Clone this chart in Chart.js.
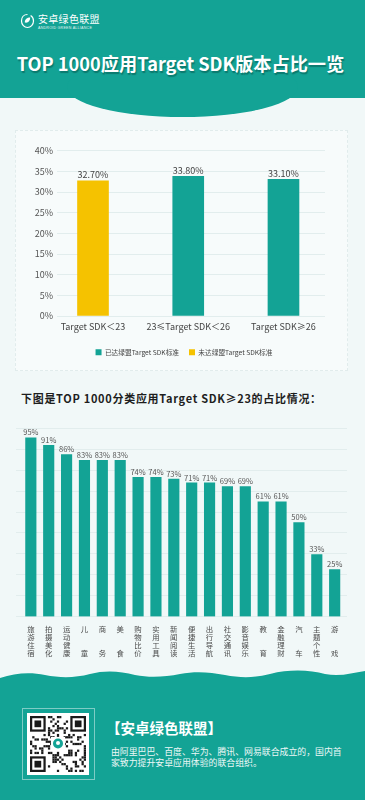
<!DOCTYPE html>
<html lang="zh-CN">
<head>
<meta charset="utf-8">
<title>TOP 1000应用Target SDK版本占比一览</title>
<script src="https://cdn.jsdelivr.net/npm/chart.js@4.4.1/dist/chart.umd.min.js"></script>
<style>
  html, body { margin: 0; padding: 0; }
  body {
    width: 365px; height: 800px; position: relative; overflow: hidden;
    background: #f1f8f8;
    font-family: 'Noto Sans CJK SC', 'Noto Sans', sans-serif;
  }
  .abs { position: absolute; }
  #topBand { left: 0; top: 0; width: 365px; height: 98px; background: #13a395; }
  #bump { left: 67px; top: 57px; width: 231px; height: 60px; border-radius: 50%; background: #13a395; }
  #brand { left: 38px; top: 12px; color: #fff; font-size: 10px; line-height: 13px; letter-spacing: 0.3px; }
  #brandSub { left: 38px; top: 25.5px; color: #e6f5f3; font-size: 3.6px; line-height: 4px; letter-spacing: 0.25px; font-family: 'Liberation Sans', sans-serif; }
  #title {
    left: -2px; top: 51px; width: 365px; text-align: center;
    font-size: 18.2px; line-height: 24px; font-weight: 700; color: #fff;
    text-shadow: 1px 2px 1px rgba(0, 70, 62, 0.45);
  }
  #card1 { left: 15px; top: 130px; width: 331px; height: 239px; background: #f7fbfb; border: 1px dashed #e1ecec; }
  #sdkBox { left: 20px; top: 140px; }
  #subhead { left: 21px; top: 390px; font-size: 11px; line-height: 16px; font-weight: 700; color: #1e1e1e; letter-spacing: 0.7px; white-space: nowrap; }
  #catBox { left: 0; top: 415px; }
  #wave { left: 0; top: 665px; }
  #qrFrame { left: 22px; top: 708px; width: 71px; height: 70px; border: 1px solid rgba(255,255,255,0.45); }
  #qr { left: 27px; top: 713px; background: #fff; }
  #orgName { left: 106px; top: 719px; font-size: 14.5px; line-height: 18px; font-weight: 700; color: #fff; white-space: nowrap; }
  #orgDesc { left: 111px; top: 745.5px; font-size: 8.9px; line-height: 11px; color: #eef8f7; white-space: nowrap; }
</style>
</head>
<body>
<div id="topBand" class="abs"></div>
<div id="bump" class="abs"></div>

<svg class="abs" style="left:20px;top:13px" width="15" height="16" viewBox="0 0 15 16">
  <path d="M7.5 1.5 C3.6 1.5 1.5 4.6 1.5 8 C1.5 11.6 4.3 14.5 7.5 14.5 C10.7 14.5 13.5 11.6 13.5 8 C13.5 5.5 12.4 3.6 10.6 2.5" fill="none" stroke="#fff" stroke-width="1.2"/>
  <path d="M4.8 9.6 C4.8 6.4 7 4.6 10.2 4.6 C10.2 7.8 8.3 10.3 4.8 9.6 Z" fill="#fff"/>
</svg>
<div id="brand" class="abs">安卓绿色联盟</div>
<div id="brandSub" class="abs">ANDROID GREEN ALLIANCE</div>

<div id="title" class="abs">TOP 1000应用Target SDK版本占比一览</div>

<div id="card1" class="abs"></div>
<div id="sdkBox" class="abs"><canvas id="sdkChart" width="328" height="228"></canvas></div>

<div id="subhead" class="abs">下图是TOP 1000分类应用Target SDK≥23的占比情况：</div>
<div id="catBox" class="abs"><canvas id="categoryChart" width="365" height="250"></canvas></div>

<svg id="wave" class="abs" width="365" height="135" viewBox="0 0 365 135">
  <path d="M0 13 C15 8 30 7 45 10 C60 13 75 13 90 9 C105 5 120 6 135 10 C150 13 165 12 180 9 C195 6 210 7 225 10 C240 13 255 13 270 9 C290 4 310 5 325 9 C340 12 352 8 365 6 L365 135 L0 135 Z" fill="#13a395"/>
</svg>
<div id="qrFrame" class="abs"></div>
<canvas id="qr" class="abs" width="62" height="62"></canvas>
<div id="orgName" class="abs">【安卓绿色联盟】</div>
<div id="orgDesc" class="abs">由阿里巴巴、百度、华为、腾讯、网易联合成立的，国内首<br>家致力提升安卓应用体验的联合组织。</div>

<script>
// chart 1: share of TOP 1000 apps per target SDK range
const sdkRanges = ['Target SDK＜23', '23≤Target SDK＜26', 'Target SDK≥26'];
const reachedShare = [null, 33.8, 33.1];
const notReachedShare = [32.7, null, null];
const shareTicks = [0, 5, 10, 15, 20, 25, 30, 35, 40];
const legendNames = ['已达绿盟Target SDK标准', '未达绿盟Target SDK标准'];

// chart 2: share of apps with target SDK >= 23 per category
const appCategories = ['旅游住宿', '拍摄美化', '运动健康', '儿童', '商务', '美食', '购物比价', '实用工具', '新闻阅读',
  '便捷生活', '出行导航', '社交通讯', '影音娱乐', '教育', '金融理财', '汽车', '主题个性', '游戏'];
const categoryShare = [95, 91, 86, 83, 83, 83, 74, 74, 73, 71, 71, 69, 69, 61, 61, 50, 33, 25];

const TEAL = '#13a395';
const YELLOW = '#f5c200';
const GRID = '#e2eded';

Chart.defaults.font.family = "'Noto Sans CJK SC', 'Noto Sans', sans-serif";

const toPoints = arr => arr.map((v, i) => ({ x: i, y: v }));

// vertical category names: one character per line, two-character names spread out
const stackChars = name => name.length === 2 ? [name[0], '', '', name[1]] : name.split('');

// draws the value above every bar, using the bar positions from the chart
function valueLabels(format, font, color, offset) {
  return {
    id: 'valueLabels',
    afterDatasetsDraw(chart) {
      const ctx = chart.ctx;
      ctx.save();
      ctx.font = font;
      ctx.fillStyle = color;
      ctx.textAlign = 'center';
      ctx.textBaseline = 'bottom';
      chart.data.datasets.forEach((ds, di) => {
        chart.getDatasetMeta(di).data.forEach((bar, i) => {
          const v = ds.data[i].y;
          if (v === null || v === undefined) return;
          ctx.fillText(format(v), bar.x, bar.y - offset);
        });
      });
      ctx.restore();
    }
  };
}

new Chart(document.getElementById('sdkChart'), {
  type: 'bar',
  data: {
    datasets: [
      { label: legendNames[0], data: toPoints(reachedShare), backgroundColor: TEAL, grouped: false, barThickness: 31 },
      { label: legendNames[1], data: toPoints(notReachedShare), backgroundColor: YELLOW, grouped: false, barThickness: 31 }
    ]
  },
  options: {
    responsive: false,
    animation: false,
    layout: { padding: { top: 10.7, right: 0, bottom: 2.5, left: 0 } },
    scales: {
      x: {
        type: 'linear', bounds: 'data', offset: false, min: -0.378, max: 2.436,
        grid: { display: false, drawTicks: false, offset: false }, border: { display: false },
        afterBuildTicks: s => { s.ticks = sdkRanges.map((_, i) => ({ value: i })); },
        afterFit: s => { s.height = 22.8; },
        ticks: { autoSkip: false, maxRotation: 0, padding: 5, color: '#444', font: { size: 9 },
          callback: v => sdkRanges[v] }
      },
      y: {
        min: 0, max: 40,
        grid: { color: GRID, drawTicks: false }, border: { display: false },
        afterBuildTicks: s => { s.ticks = shareTicks.map(v => ({ value: v })); },
        afterFit: s => { s.width = 37; },
        ticks: { padding: 4, color: '#555', font: { size: 9 }, callback: v => v + '%' }
      },
      // empty axis on the right: keeps the plot narrower than the legend row, like the poster
      spacer: {
        type: 'linear', position: 'right', display: true,
        grid: { display: false }, border: { display: false }, ticks: { display: false },
        afterFit: s => { s.width = 23; }
      }
    },
    plugins: {
      legend: { position: 'bottom', labels: { boxWidth: 6, boxHeight: 6, padding: 10, color: '#444', font: { size: 6.7 } } },
      tooltip: { enabled: false }
    }
  },
  plugins: [valueLabels(v => v.toFixed(2) + '%', "9px 'Liberation Sans Narrow', 'Noto Sans CJK SC'", '#444', 1.5)]
});

new Chart(document.getElementById('categoryChart'), {
  type: 'bar',
  data: {
    datasets: [{ label: 'Target SDK≥23', data: toPoints(categoryShare), backgroundColor: TEAL, barThickness: 10.5 }]
  },
  options: {
    responsive: false,
    animation: false,
    layout: { padding: { top: 13.3, right: 18, bottom: 6.3, left: 16 } },
    scales: {
      x: {
        type: 'linear', bounds: 'data', offset: false, min: -0.83, max: 17.69,
        grid: { display: false, drawTicks: false, offset: false }, border: { display: false },
        afterBuildTicks: s => { s.ticks = appCategories.map((_, i) => ({ value: i })); },
        afterFit: s => { s.height = 42; },
        ticks: { autoSkip: false, maxRotation: 0, padding: 8, color: '#4a4a4a', font: { size: 7.4, lineHeight: '8px' },
          callback: v => stackChars(appCategories[v]) }
      },
      y: {
        min: 0, max: 100,
        grid: { color: GRID, drawTicks: false }, border: { display: false },
        afterFit: s => { s.width = 0; },
        ticks: { display: false, count: 10 }
      }
    },
    plugins: { legend: { display: false }, tooltip: { enabled: false } }
  },
  plugins: [valueLabels(v => v + '%', "7.5px 'Liberation Sans Narrow', 'Noto Sans CJK SC'", '#555', 1.5)]
});

// decorative QR-style block for the footer
function drawQr() {
  const c = document.getElementById('qr');
  const g = c.getContext('2d');
  const n = 25, pad = 3, s = (c.width - pad * 2) / n;
  g.fillStyle = '#fff';
  g.fillRect(0, 0, c.width, c.height);
  g.fillStyle = '#1a1a1a';
  for (let r = 0; r < n; r++) {
    for (let q = 0; q < n; q++) {
      const finder = (r < 8 && q < 8) || (r < 8 && q >= n - 8) || (r >= n - 8 && q < 8);
      if (finder) continue;
      if (((r * 31 + q * 17) ^ (r * q + 5)) % 3 === 0) g.fillRect(pad + q * s, pad + r * s, s, s);
    }
  }
  [[0, 0], [0, n - 7], [n - 7, 0]].forEach(([r, q]) => {
    const x = pad + q * s, y = pad + r * s;
    g.fillStyle = '#1a1a1a'; g.fillRect(x, y, 7 * s, 7 * s);
    g.fillStyle = '#fff'; g.fillRect(x + s, y + s, 5 * s, 5 * s);
    g.fillStyle = '#1a1a1a'; g.fillRect(x + 2 * s, y + 2 * s, 3 * s, 3 * s);
  });
  g.fillStyle = '#fff';
  g.fillRect(c.width / 2 - 7, c.height / 2 - 7, 14, 14);
  g.fillStyle = TEAL;
  g.beginPath();
  g.arc(c.width / 2, c.height / 2 - 0.5, 5, 0, Math.PI * 2);
  g.fill();
  g.fillStyle = '#fff';
  g.beginPath();
  g.arc(c.width / 2, c.height / 2 - 1, 2, 0, Math.PI * 2);
  g.fill();
}
drawQr();
</script>
</body>
</html>
